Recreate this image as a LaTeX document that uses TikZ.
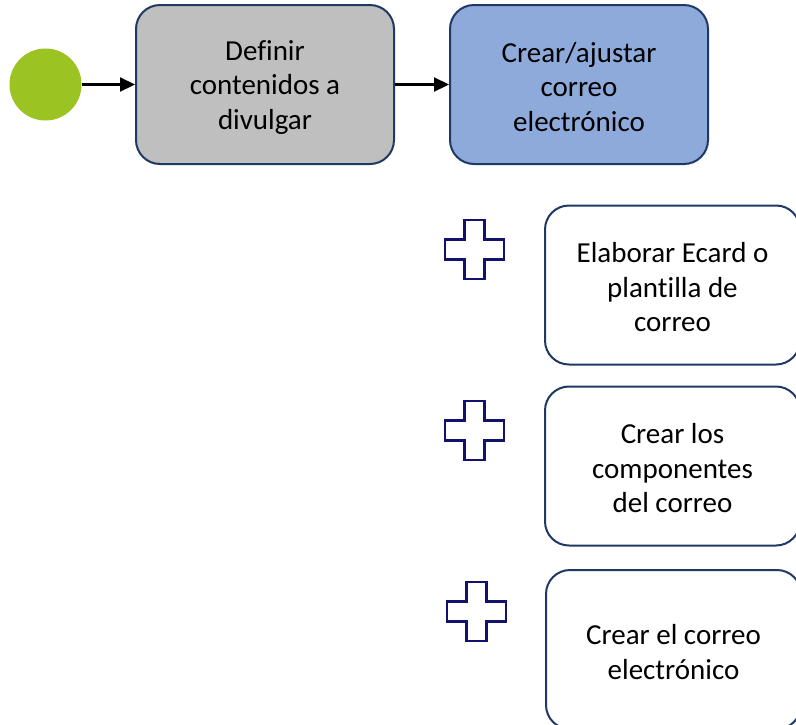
\documentclass[tikz,border=0pt]{standalone}
\usepackage{fontspec}
\setmainfont[Ligatures=NoCommon]{Carlito}
\usetikzlibrary{arrows.meta}
\definecolor{bordc}{HTML}{1F3864}
\definecolor{grayfill}{HTML}{BFBFBF}
\definecolor{bluefill}{HTML}{8EAADB}
\definecolor{startc}{HTML}{9BC322}
\definecolor{plusc}{HTML}{12126E}
\newcommand\topstrut{\rule{0pt}{25pt}}
\begin{document}
\begin{tikzpicture}[x=1pt,y=-1pt,
  task/.style={draw=bordc, line width=2pt, rounded corners=24pt, minimum width=258pt, minimum height=159pt, align=center, inner sep=0pt, font=\fontsize{29}{34.5}\selectfont},
  subtask/.style={task, fill=white, minimum width=255pt},
  flow/.style={line width=2.2pt, -{Triangle[length=15pt,width=14pt]}},
  plussign/.style={draw=plusc, line width=2.5pt, fill=white, line join=miter}]
\useasboundingbox (0,0) rectangle (796,724);
\clip (0,0) rectangle (796,724);
\node[circle, fill=startc, minimum size=72pt, inner sep=0pt] (start) at (45.5,84.5) {};
\node[task, fill=grayfill] (b1) at (265,84.5) {\topstrut Definir\\contenidos a\\divulgar};
\node[task, fill=bluefill] (b2) at (579,84.5) {\topstrut Crear/ajustar\\correo\\electrónico};
\draw[flow] (start) -- (b1.west |- start);
\draw[flow] (b1.east |- start) -- (b2.west |- start);
\node[subtask] (s1) at (672.5,285) {\topstrut Elaborar Ecard o\\plantilla de\\correo};
\node[subtask] (s2) at (672.5,466) {\topstrut Crear los\\componentes\\del correo};
\node[subtask] (s3) at (673.5,649.5) {\topstrut Crear el correo\\electrónico};
\coordinate (p1) at (474.5,249.5);
\coordinate (p2) at (474.5,430.5);
\coordinate (p3) at (476.5,611.5);
\foreach \p in {p1,p2,p3}{
  \draw[plussign] (\p) ++(-10,-29.5) -- ++(20,0) -- ++(0,19.5) -- ++(19.5,0) -- ++(0,20) -- ++(-19.5,0) -- ++(0,19.5) -- ++(-20,0) -- ++(0,-19.5) -- ++(-19.5,0) -- ++(0,-20) -- ++(19.5,0) -- cycle;
}
\end{tikzpicture}
\end{document}
